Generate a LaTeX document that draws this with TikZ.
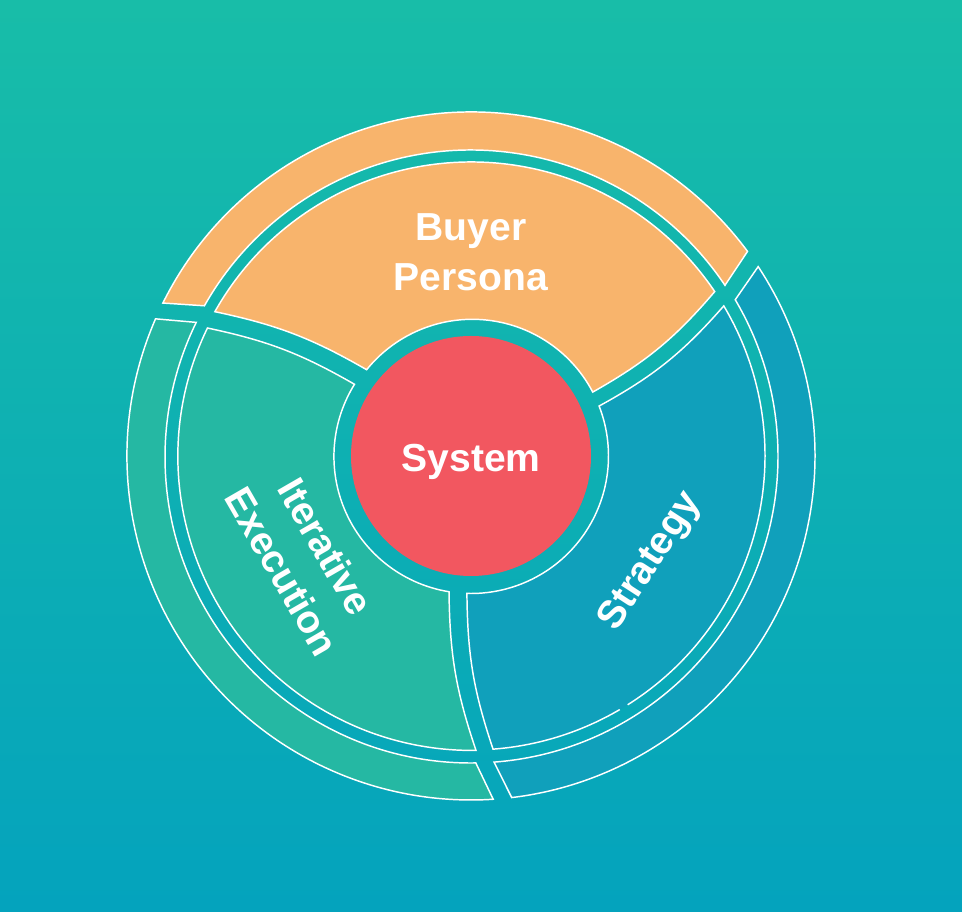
\documentclass[tikz,border=0pt]{standalone}
\usepackage{fontspec}
\setsansfont{Liberation Sans}
\usepackage{tikz}
\definecolor{bg_top}{RGB}{24,189,168}
\definecolor{bg_bottom}{RGB}{4,163,189}
\definecolor{c_orange}{RGB}{248,180,108}
\definecolor{c_green}{RGB}{37,184,163}
\definecolor{c_blue}{RGB}{16,160,187}
\definecolor{c_red}{RGB}{242,87,96}

\begin{document}
\begin{tikzpicture}[
		x=0.75pt, y=0.75pt,
		every node/.style={text=white, align=center, font=\sffamily\bfseries\fontsize{29.3}{37.5}\selectfont},
		part/.style={draw=white, line width=1.1pt, line join=miter},
		rim/.style={line width=1.1pt, draw=white}
	]
  \useasboundingbox (-471,-456) rectangle (491,456);
  \shade [top color=bg_top, bottom color=bg_bottom] (-471,-456) rectangle (491,456);

  \draw [part, fill=c_orange] (153.6:344) arc[start angle=153.6, end angle=36.5, radius=344] -- (33.9:306) arc[start angle=33.9, end angle=150.6, radius=306] -- cycle;
  \draw [part, fill=c_orange] (150.6:294) arc[start angle=150.6, end angle=34, radius=294] to[bend left=10] (27.7:137.5) arc[start angle=27.7, end angle=141, radius=136] to[bend right=9] cycle;

  \draw [part, fill=c_green] (156.5:344) arc[start angle=156.5, end angle=273.7, radius=344] -- (270.9:307) arc[start angle=270.9, end angle=153.9, radius=306] -- cycle;
  \draw [part, fill=c_green] (154.1:293) arc[start angle=154.1, end angle=270.8, radius=294] to[bend left=9] (260.8:137.5) arc[start angle=260.8, end angle=148.2, radius=137] to[bend right=9] cycle;

  \draw [part, fill=c_blue] (33.4:344) arc[start angle=33.4, end angle=-83.2, radius=344] -- (-85.7:307) arc[start angle=-85.7, end angle=30.6, radius=307] -- cycle;
  \fill [c_blue] (-57.8:294) arc[start angle=-57.8, end angle=30.7, radius=294] to[bend left=10] (21.3:137.5) arc[start angle=21.3, end angle=-91.7, radius=137.5] to[bend right=9] (-85.7:294) arc[start angle=-85.7, end angle=-59.6, radius=294] -- cycle;
  \draw [rim] (-57.8:294) arc[start angle=-57.8, end angle=30.7, radius=294] to[bend left=10] (21.3:137.5) arc[start angle=21.3, end angle=-91.7, radius=137.5] to[bend right=9] (-85.7:294) arc[start angle=-85.7, end angle=-59.6, radius=294];

  \node (circle_red) [circle, fill=c_red, minimum size=180pt, inner sep=0pt] at (0,0) {};
  \node (system) at (0,-6) {System};
  \node (buyer_persona) at (0,204) {Buyer\\Persona};
  \node (strategy) [rotate=57] at (180,-106) {Strategy};
  \node (iterative_execution) [rotate=-60] at (-167,-103) {Iterative\\Execution};
\end{tikzpicture}
\end{document}
